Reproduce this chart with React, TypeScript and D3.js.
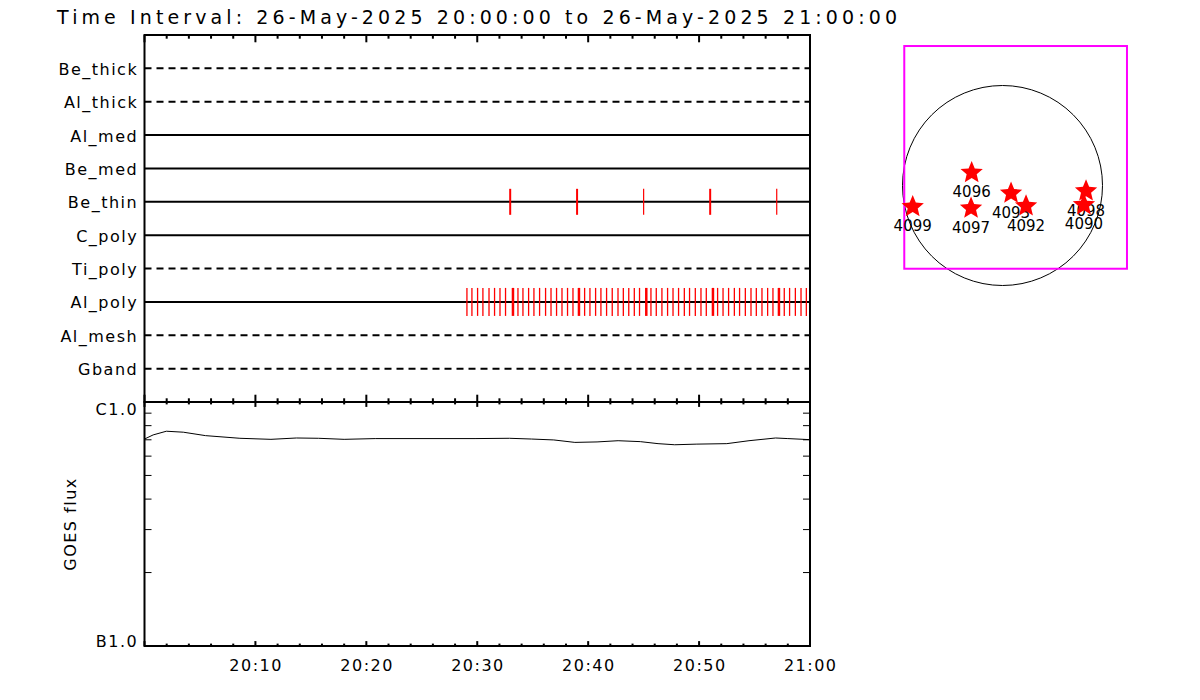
import React from "react";
import * as d3 from "d3";

const titleText = "Time Interval: 26-May-2025 20:00:00 to 26-May-2025 21:00:00";

const channels = ["Be_thick", "Al_thick", "Al_med", "Be_med", "Be_thin", "C_poly", "Ti_poly", "Al_poly", "Al_mesh", "Gband"];
const channelDashed = [true, true, false, false, false, false, true, false, true, true];

// exposure times, minutes after 20:00
const beThinMinutes = [32.97, 39.0, 45.0, 51.0, 57.0];
const beThinThick = [true, true, false, true, false];

const alPolyMinutes = [
  29.07, 29.52, 30.03, 30.51, 31.06, 31.56, 32.05, 32.55, 33.22, 33.67,
  34.12, 34.63, 35.11, 35.62, 36.16, 36.65, 37.15, 37.64, 38.14, 38.63,
  39.17, 39.68, 40.16, 40.67, 41.15, 41.66, 42.17, 42.69, 43.17, 43.66,
  44.16, 44.63, 45.24, 45.66, 46.14, 46.65, 47.16, 47.65, 48.15, 48.67,
  49.14, 49.66, 50.17, 50.65, 51.25, 51.67, 52.16, 52.66, 53.18, 53.65,
  54.17, 54.68, 55.16, 55.67, 56.18, 56.66, 57.2, 57.68, 58.16, 58.68,
  59.19, 59.67,
];
const alPolyThickMinutes = [33.22, 39.17, 45.24, 51.25, 57.2];

const goesMinutes = [0, 0.78, 1.97, 3.5, 5.5, 8.6, 11.4, 13.7, 15.7, 18.0, 20.8, 29.8, 32.9, 34.9, 36.9, 38.8, 40.8, 42.7, 44.7, 46.3, 47.8, 49.8, 52.5, 54.5, 56.9, 58.0, 60];
const goesFlux = [7.05e-7, 7.33e-7, 7.59e-7, 7.52e-7, 7.28e-7, 7.10e-7, 7.03e-7, 7.12e-7, 7.10e-7, 7.03e-7, 7.08e-7, 7.08e-7, 7.10e-7, 7.05e-7, 6.99e-7, 6.83e-7, 6.86e-7, 6.94e-7, 6.88e-7, 6.75e-7, 6.68e-7, 6.72e-7, 6.75e-7, 6.94e-7, 7.12e-7, 7.08e-7, 7.01e-7];
const goesLevelLabels = ["B1.0", "C1.0"];
const goesLevels = [1e-7, 1e-6];

const timeTickLabels = ["20:10", "20:20", "20:30", "20:40", "20:50", "21:00"];

// solar map (arcsec)
const solarRadius = 960;
const regionNames = ["4099", "4096", "4097", "4093", "4092", "4098", "4090"];
const regionX = [-862, -296, -302, 82, 226, 802, 782];
const regionY = [-204, 123, -219, -75, -197, -53, -187];
const fovX = [-943, 1195];
const fovY = [-799, 1339];

const t0 = Date.UTC(2025, 4, 26, 20, 0, 0);
const toDate = (m: number) => new Date(t0 + m * 60000);
const labelMinutes = (s: string) => {
  const [h, m] = s.split(":").map(Number);
  return (h - 20) * 60 + m;
};

// a slightly fatter five-point star than d3.symbolStar
const fatStar = {
  draw(context: any, size: number) {
    const r = Math.sqrt(size / 1.2);
    const ri = r * 0.45;
    for (let i = 0; i < 10; i++) {
      const a = (Math.PI * i) / 5 - Math.PI / 2;
      const rr = i % 2 === 0 ? r : ri;
      const px = Math.cos(a) * rr, py = Math.sin(a) * rr;
      if (i === 0) context.moveTo(px, py);
      else context.lineTo(px, py);
    }
    context.closePath();
  },
};

export default function App() {
  const left = 144.5, right = 810, top = 35, mid = 402, bottom = 646;
  const x = d3.scaleUtc().domain([toDate(0), toDate(60)]).range([left, right]);
  const yRow = d3.scalePoint<string>().domain(channels).range([top, mid]).padding(1);
  const yFlux = d3.scaleLog().domain(goesLevels).range([bottom, mid]);
  const line = d3
    .line<number>()
    .x((_, i) => x(toDate(goesMinutes[i])))
    .y((d) => yFlux(d));
  const timeTicks = x.ticks(d3.utcMinute.every(2)!);
  const isMajor = (d: Date) => d.getUTCMinutes() % 10 === 0;
  const fluxTicks = yFlux.ticks().filter((v) => v > goesLevels[0] * 1.01 && v < goesLevels[1] * 0.99);

  const sx = d3.scaleLinear().domain([-solarRadius, solarRadius]).range([902.5, 1102.5]);
  const sy = d3.scaleLinear().domain([-solarRadius, solarRadius]).range([285.5, 85.5]);
  const starPath = d3.symbol(fatStar as any, 165)()!;

  const font = { fontFamily: "DejaVu Sans, Verdana, sans-serif", fontSize: 16, letterSpacing: 1.5 } as const;

  const topTickMajor = 7.3, topTickMinor = 3.7;
  const goesTickMajor = 4.9, goesTickMinor = 2.4;

  return (
    <svg width={1200} height={700} style={{ position: "absolute", left: 0, top: 0, background: "#fff" }}>
      <rect x={0} y={0} width={1200} height={700} fill="#fff" />
      <text x={57} y={24} fontFamily="DejaVu Sans, Verdana, sans-serif" fontSize={19} textLength={840} lengthAdjust="spacing" fill="#000">
        {titleText}
      </text>

      {/* channel rows */}
      {channels.map((c, i) => (
        <g key={c}>
          <line
            x1={left}
            x2={right}
            y1={yRow(c)}
            y2={yRow(c)}
            stroke="#000"
            strokeWidth={2}
            strokeDasharray={channelDashed[i] ? "7,5" : undefined}
          />
          <text x={138.2} y={yRow(c)! + 6.5} textAnchor="end" fill="#000" {...font}>
            {c}
          </text>
        </g>
      ))}

      {/* Be_thin exposures */}
      {beThinMinutes.map((m, i) => (
        <line
          key={"bt" + i}
          x1={x(toDate(m))}
          x2={x(toDate(m))}
          y1={yRow("Be_thin")! - 13}
          y2={yRow("Be_thin")! + 13}
          stroke="#ff0000"
          strokeWidth={beThinThick[i] ? 2 : 1.2}
        />
      ))}
      {/* Al_poly exposures */}
      {alPolyMinutes.map((m, i) => (
        <line
          key={"ap" + i}
          x1={x(toDate(m))}
          x2={x(toDate(m))}
          y1={yRow("Al_poly")! - 14}
          y2={yRow("Al_poly")! + 14}
          stroke="#ff0000"
          strokeWidth={alPolyThickMinutes.includes(m) ? 2.5 : 1.3}
        />
      ))}

      {/* top panel frame */}
      <rect x={left} y={top} width={right - left} height={mid - top} fill="none" stroke="#000" strokeWidth={2} />
      {timeTicks.map((d, i) => {
        const xx = x(d);
        const lt = isMajor(d) ? topTickMajor : topTickMinor;
        const lg = isMajor(d) ? goesTickMajor : goesTickMinor;
        return (
          <g key={"tt" + i} stroke="#000" strokeWidth={2}>
            <line x1={xx} x2={xx} y1={top} y2={top + lt} />
            <line x1={xx} x2={xx} y1={mid} y2={mid - lt} />
            <line x1={xx} x2={xx} y1={mid} y2={mid + lg} />
            <line x1={xx} x2={xx} y1={bottom} y2={bottom - lg} />
          </g>
        );
      })}

      {/* GOES panel */}
      <rect x={left} y={mid} width={right - left} height={bottom - mid} fill="none" stroke="#000" strokeWidth={2} />
      {fluxTicks.map((v, i) => (
        <g key={"ft" + i} stroke="#000" strokeWidth={1}>
          <line x1={left} x2={left + 7} y1={yFlux(v)} y2={yFlux(v)} />
          <line x1={right} x2={right - 7} y1={yFlux(v)} y2={yFlux(v)} />
        </g>
      ))}
      <path d={line(goesFlux)!} fill="none" stroke="#000" strokeWidth={1} />
      <text x={138.2} y={yFlux(goesLevels[1]) + 12.5} textAnchor="end" fill="#000" {...font}>
        {goesLevelLabels[1]}
      </text>
      <text x={138.2} y={yFlux(goesLevels[0]) + 0.5} textAnchor="end" fill="#000" {...font}>
        {goesLevelLabels[0]}
      </text>
      <text
        transform={`translate(75.5,${(mid + bottom) / 2}) rotate(-90)`}
        textAnchor="middle"
        fill="#000"
        {...font}
      >
        GOES flux
      </text>
      {timeTickLabels.map((s) => (
        <text key={s} x={x(toDate(labelMinutes(s))) + 0.75} y={671} textAnchor="middle" fill="#000" {...font}>
          {s}
        </text>
      ))}

      {/* solar map */}
      <circle cx={sx(0)} cy={sy(0)} r={sx(solarRadius) - sx(0)} fill="none" stroke="#000" strokeWidth={1} />
      <rect
        x={sx(fovX[0])}
        y={sy(fovY[1])}
        width={sx(fovX[1]) - sx(fovX[0])}
        height={sy(fovY[0]) - sy(fovY[1])}
        fill="none"
        stroke="#ff00ff"
        strokeWidth={2}
      />
      {regionNames.map((n, i) => (
        <g key={n}>
          <path d={starPath} transform={`translate(${sx(regionX[i])},${sy(regionY[i])})`} fill="#ff0000" />
          <text
            x={sx(regionX[i])}
            y={sy(regionY[i]) + 24.5}
            textAnchor="middle"
            fill="#000"
            fontFamily="DejaVu Sans, Verdana, sans-serif"
            fontSize={15}
          >
            {n}
          </text>
        </g>
      ))}
    </svg>
  );
}
